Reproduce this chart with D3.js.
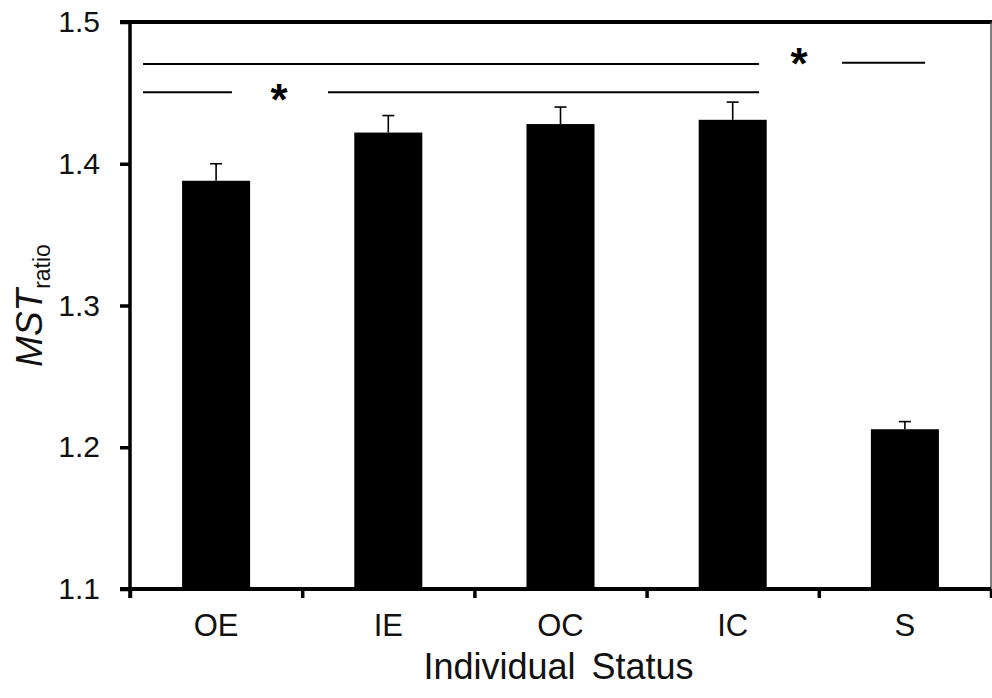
<!DOCTYPE html>
<html>
<head>
<meta charset="utf-8">
<script src="https://cdn.jsdelivr.net/npm/d3@7"></script>
<style>
  html, body { margin: 0; padding: 0; background: #fff; }
  svg { display: block; font-family: "Liberation Sans", Arial, sans-serif; }
</style>
</head>
<body>
<svg id="chart" width="992" height="698"></svg>
<script>
// ---- data ----
const categories = ["OE", "IE", "OC", "IC", "S"];
const means = [1.388, 1.422, 1.428, 1.431, 1.2127];
const errors = [0.012, 0.012, 0.012, 0.0125, 0.0054];
const yTicks = [1.1, 1.2, 1.3, 1.4, 1.5];
// significance lines: [fromIndex, toIndex, value] in category-index / data units
const sigLines = [
  [-0.4245, 3.153, 1.4704],
  [-0.4245, 0.092, 1.4504],
  [0.65, 3.153, 1.4504],
  [3.635, 4.117, 1.4713]
];
// asterisks: [index, value]
const sigStars = [
  [0.365, 1.4504],
  [3.385, 1.4757]
];
const xTitle = "Individual Status";
const yTitleMain = "MST";
const yTitleSub = "ratio";

(function () {
// ---- layout ----
const svg = d3.select("#chart");
const mLeft = 130, mRight = 991, mTop = 22, mBottom = 589;
const FONT = "'Liberation Sans', Arial, sans-serif";

const y = d3.scaleLinear().domain([1.1, 1.5]).range([mBottom, mTop]);
const xBand = d3.scaleBand().domain(categories).range([mLeft, mRight])
  .paddingInner(0.605).paddingOuter(0.3025);
const xLab = d3.scaleBand().domain(categories).range([mLeft, mRight]).padding(0);
const xi = d3.scaleLinear().domain([-0.5, categories.length - 0.5]).range([mLeft, mRight]);

// bars
svg.append("g").selectAll("rect").data(categories).join("rect")
  .attr("x", d => xBand(d))
  .attr("width", xBand.bandwidth())
  .attr("y", (d, i) => y(means[i]))
  .attr("height", (d, i) => y(1.1) - y(means[i]))
  .attr("fill", "#000");

// error bars (upper only)
const eg = svg.append("g").attr("stroke", "#000").attr("stroke-width", 1.6);
categories.forEach((c, i) => {
  const cx = xBand(c) + xBand.bandwidth() / 2;
  eg.append("line").attr("x1", cx).attr("x2", cx)
    .attr("y1", y(means[i])).attr("y2", y(means[i] + errors[i]));
  eg.append("line").attr("x1", cx - 6).attr("x2", cx + 6)
    .attr("y1", y(means[i] + errors[i])).attr("y2", y(means[i] + errors[i]));
});

// frame: top thick line, right thin line
svg.append("line").attr("x1", mLeft - 10).attr("x2", 992)
  .attr("y1", y(1.5)).attr("y2", y(1.5))
  .attr("stroke", "#000").attr("stroke-width", 4);
svg.append("line").attr("x1", mRight).attr("x2", mRight)
  .attr("y1", y(1.5)).attr("y2", mBottom + 9)
  .attr("stroke", "#555").attr("stroke-width", 1.5);

// y axis
const yAxis = svg.append("g").attr("transform", `translate(${mLeft},0)`)
  .call(d3.axisLeft(y).tickValues(yTicks).tickFormat(d3.format(".1f"))
    .tickSize(10).tickPadding(20));
yAxis.attr("font-size", null).attr("font-family", null);
yAxis.select(".domain").remove();
yAxis.selectAll(".tick line").attr("stroke", "#000").attr("stroke-width", 3.5);
yAxis.selectAll(".tick text").style("font-size", "30px").attr("fill", "#111")
  .style("font-family", FONT);
svg.append("line").attr("x1", mLeft).attr("x2", mLeft)
  .attr("y1", mTop).attr("y2", mBottom + 9)
  .attr("stroke", "#000").attr("stroke-width", 3.5);

// x axis line
svg.append("line").attr("x1", mLeft - 10).attr("x2", mRight)
  .attr("y1", mBottom).attr("y2", mBottom)
  .attr("stroke", "#000").attr("stroke-width", 4);

// x boundary ticks
const xTickAxis = svg.append("g").attr("transform", `translate(0,${mBottom})`)
  .call(d3.axisBottom(xi).tickValues(d3.range(-0.5, categories.length, 1)).tickFormat("").tickSize(9));
xTickAxis.select(".domain").remove();
xTickAxis.selectAll(".tick line").attr("stroke", "#000").attr("stroke-width", 3.5);

// x labels
const xLabAxis = svg.append("g").attr("transform", `translate(0,${mBottom})`)
  .call(d3.axisBottom(xLab).tickSize(0).tickPadding(26));
xLabAxis.attr("font-size", null).attr("font-family", null);
xLabAxis.select(".domain").remove();
xLabAxis.selectAll(".tick text").style("font-size", "31px").attr("fill", "#111")
  .style("font-family", FONT).attr("dy", "0.68em");

// x title
svg.append("text").attr("x", (mLeft + mRight) / 2 - 2).attr("y", 679)
  .attr("text-anchor", "middle").style("font-size", "36px").attr("fill", "#111")
  .attr("word-spacing", 6)
  .text(xTitle);

// y title
const yt = svg.append("text")
  .attr("transform", `translate(42,${(mTop + mBottom) / 2}) rotate(-90)`)
  .attr("text-anchor", "middle").attr("fill", "#111");
yt.append("tspan").style("font-size", "37px").attr("font-style", "italic").text(yTitleMain);
yt.append("tspan").style("font-size", "23px").attr("dy", 8).text(yTitleSub);

// significance lines
svg.append("g").selectAll("line").data(sigLines).join("line")
  .attr("x1", d => xi(d[0])).attr("x2", d => xi(d[1]))
  .attr("y1", d => y(d[2])).attr("y2", d => y(d[2]))
  .attr("stroke", "#000").attr("stroke-width", 2);

svg.append("g").selectAll("text").data(sigStars).join("text")
  .attr("x", d => xi(d[0])).attr("y", d => y(d[1]) + 23)
  .attr("text-anchor", "middle").style("font-size", "44px").attr("font-weight", "bold")
  .attr("fill", "#000").text("*");
})();
</script>
</body>
</html>
